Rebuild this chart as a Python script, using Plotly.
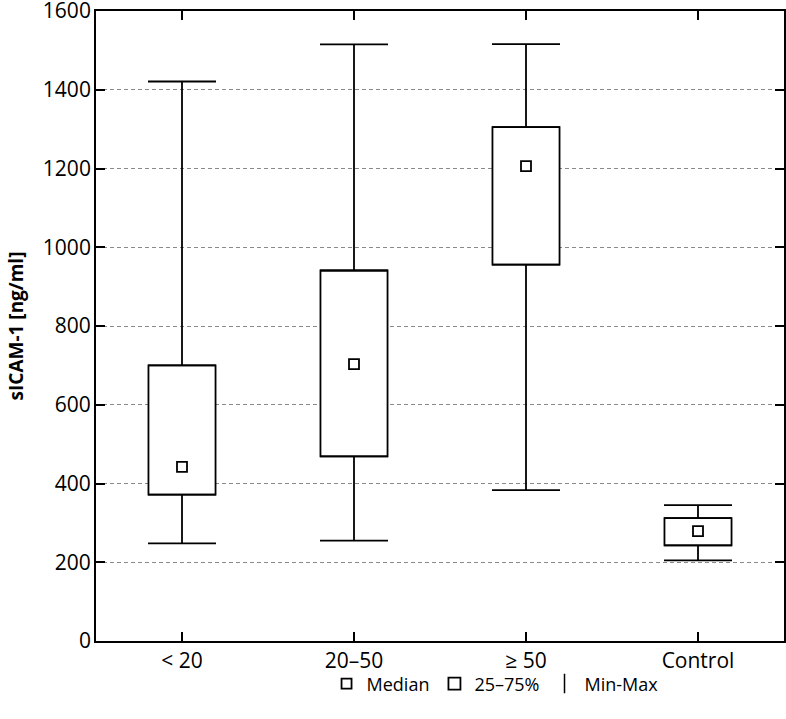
import plotly.graph_objects as go

categories = ["< 20", "20–50", "≥ 50", "Control"]
q1 = [372, 469, 956, 243]
median = [442, 703, 1206, 279]
q3 = [700, 941, 1305, 312]
vmin = [248, 255, 383, 205]
vmax = [1421, 1515, 1516, 345]

FONT = "Open Sans"
BOX_W = 0.39

fig = go.Figure()

# upper whiskers (q3 -> max)
fig.add_trace(go.Scatter(
    x=categories, y=q3, mode="markers",
    marker=dict(size=1, color="rgba(0,0,0,0)"),
    error_y=dict(type="data", symmetric=False,
                 array=[b - a for a, b in zip(q3, vmax)],
                 arrayminus=[0] * len(q3),
                 color="black", thickness=1.8, width=34),
    showlegend=False, hoverinfo="skip"))
# lower whiskers (min -> q1)
fig.add_trace(go.Scatter(
    x=categories, y=q1, mode="markers",
    marker=dict(size=1, color="rgba(0,0,0,0)"),
    error_y=dict(type="data", symmetric=False,
                 array=[0] * len(q1),
                 arrayminus=[a - b for a, b in zip(q1, vmin)],
                 color="black", thickness=1.8, width=34),
    showlegend=False, hoverinfo="skip"))

# boxes
fig.add_trace(go.Bar(
    x=categories, y=[b - a for a, b in zip(q1, q3)], base=q1,
    width=BOX_W, marker=dict(color="white", line=dict(color="black", width=1.8)),
    name="25–75%", showlegend=True, legendrank=2))

# medians
fig.add_trace(go.Scatter(
    x=categories, y=median, mode="markers",
    marker=dict(symbol="square", size=10, color="white",
                line=dict(color="black", width=1.8)),
    name="Median", legendrank=1))

# legend-only min-max entry
fig.add_trace(go.Scatter(
    x=[None], y=[None], mode="markers",
    marker=dict(symbol="line-ns-open", size=14, color="black",
                line=dict(color="black", width=1.5)),
    name="Min-Max", legendrank=3))

fig.update_layout(
    width=786, height=719,
    margin=dict(l=96, r=2, t=11, b=78, autoexpand=False),
    paper_bgcolor="white", plot_bgcolor="white",
    font=dict(family=FONT, size=20, color="black"),
    barmode="overlay",
    legend=dict(orientation="h", x=0.58, xanchor="center", y=-0.068, yanchor="middle",
                font=dict(size=18), itemwidth=30, tracegroupgap=0,
                bgcolor="rgba(0,0,0,0)"),
)
fig.update_xaxes(
    range=[-0.5, 3.5], showline=True, linecolor="black", linewidth=1.8,
    mirror="allticks", ticks="inside", ticklen=9, tickwidth=1.8, tickcolor="black",
    showgrid=False, tickfont=dict(size=21),
)
fig.update_yaxes(
    range=[0, 1600], dtick=200, showline=True, linecolor="black", linewidth=1.8,
    mirror="allticks", ticks="inside", ticklen=9, tickwidth=1.8, tickcolor="black",
    showgrid=True, gridcolor="#8a8a8a", gridwidth=1.2, griddash="4px,3px",
    zeroline=False, tickfont=dict(size=21), ticklabeloverflow="allow",
    ticklabelstandoff=-1,
    title=dict(text="<b>sICAM-1 [ng/ml]</b>", font=dict(size=19), standoff=14),
)

fig.write_html("out.html", config={"displayModeBar": False},
               post_script="document.body.style.margin='0px';")
